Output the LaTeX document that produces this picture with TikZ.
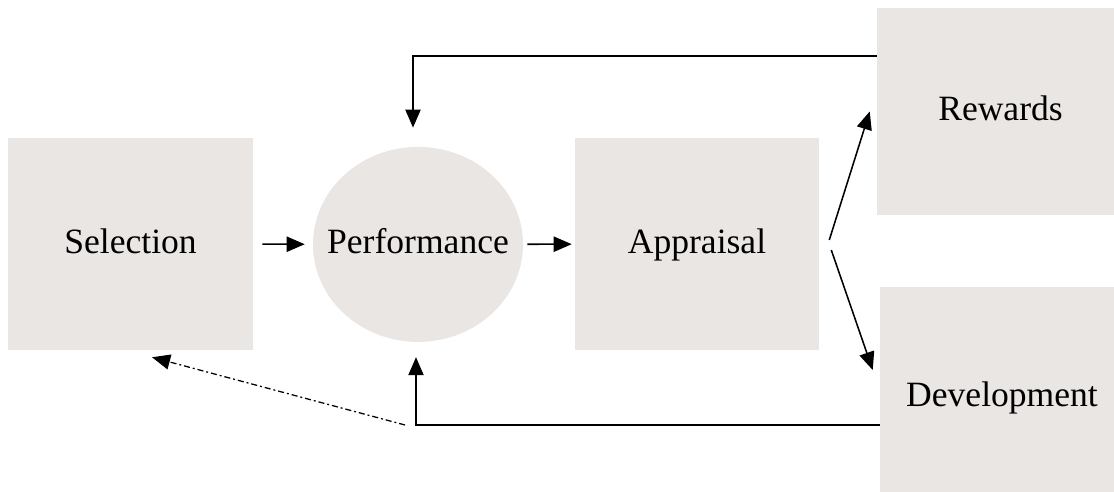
\documentclass[tikz,border=0pt]{standalone}
\usepackage{fontspec}
\setmainfont{Liberation Serif}
\usepackage{tikz}
\usetikzlibrary{arrows.meta,positioning,shapes.geometric}
\definecolor{boxgray}{RGB}{233,230,228}

\begin{document}
\begin{tikzpicture}[>={Triangle[length=0.45cm,width=0.38cm]},
  box/.style={fill=boxgray, inner sep=0pt, text height=0.62cm, text depth=0.15cm,
    font=\fontsize{25.3}{30}\selectfont},
  link/.style={->, line width=1.1pt}]
\useasboundingbox (0,0) rectangle (27.85,-12.3);
\node[box, minimum width=6.125cm, minimum height=5.3cm] (sel) at (3.2625,-6.1) {Selection};
\node[box, ellipse, minimum width=5.25cm, minimum height=4.875cm] (perf) at (10.45,-6.11) {\makebox[0pt]{Performance}};
\node[box, minimum width=6.1cm, minimum height=5.3cm] (app) at (17.425,-6.1) {Appraisal};
\node[box, minimum width=6.175cm, minimum height=5.175cm] (rew) at (25.0125,-2.7875) {Rewards};
\node[box, minimum width=6.1cm, minimum height=5.5cm] (dev) at (25.05,-9.925) {Development};

\draw[link, shorten <=0.225cm, shorten >=0.2cm] (sel) -- (perf);
\draw[link, shorten <=0.1cm, shorten >=0.075cm] (perf) -- (app);
\draw[link] ([xshift=0.25cm,yshift=0.1cm]app.east) -- ([xshift=-0.175cm]rew.west);
\draw[link] ([xshift=0.3cm,yshift=-0.15cm]app.east) -- ([xshift=-0.175cm,yshift=0.675cm]dev.west);

% feedback loops
\draw[link] ([yshift=1.3875cm]rew.west) -| ([xshift=-0.125cm,yshift=0.475cm]perf.north);
\coordinate (bend) at (10.4,-10.625);
\draw[link, shorten >=0.375cm] ([yshift=-0.7cm]dev.west) -- (bend) -- (bend |- perf.south);
\draw[link, line width=0.9pt, dash pattern=on 4.3pt off 2.1pt on 1.4pt off 2.1pt]
  ([xshift=-0.275cm]bend) -- ([xshift=0.54cm,yshift=-0.175cm]sel.south);
\end{tikzpicture}
\end{document}
